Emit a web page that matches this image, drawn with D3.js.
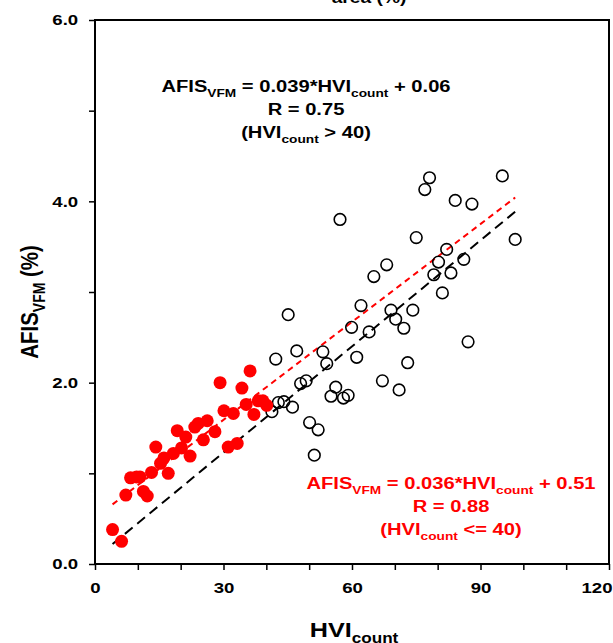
<!DOCTYPE html>
<html>
<head>
<meta charset="utf-8">
<script src="https://cdn.jsdelivr.net/npm/d3@7"></script>
<style>
  body { margin: 0; background: #fff; }
  svg { display: block; font-family: "Liberation Sans", Arial, sans-serif; font-weight: bold; }
</style>
</head>
<body>
<svg id="chart" width="613" height="643"></svg>
<script>
'use strict'

// HVI <= 40 (red, filled)
const lowHvi = [4.1, 6.2, 7.2, 8.3, 9.7, 10.5, 11.3, 12.2, 13.2, 14.2, 15.3, 16.1, 17.1, 18.3, 19.2, 20.2, 21.2, 22.2, 23.3, 24.1, 25.3, 26.2, 28.0, 29.2, 30.1, 31.1, 32.3, 33.2, 34.3, 35.3, 36.2, 37.1, 38.1, 39.2, 40.1]
const lowAfis = [0.38, 0.25, 0.76, 0.95, 0.96, 0.96, 0.80, 0.75, 1.01, 1.29, 1.11, 1.17, 1.00, 1.22, 1.47, 1.28, 1.40, 1.19, 1.51, 1.55, 1.37, 1.58, 1.46, 2.00, 1.69, 1.29, 1.66, 1.33, 1.94, 1.76, 2.13, 1.65, 1.80, 1.80, 1.75]

// HVI > 40 (open circles)
const highHvi = [41.3, 42.8, 44.1, 46.1, 42.2, 45.1, 47.1, 48.0, 49.3, 50.1, 52.1, 51.2, 53.2, 54.1, 55.1, 56.2, 58.0, 59.1, 57.2, 59.9, 61.1, 62.1, 64.0, 65.1, 67.1, 68.1, 69.1, 70.2, 71.0, 72.1, 73.0, 74.2, 75.0, 77.0, 78.1, 79.1, 80.2, 81.1, 82.1, 83.1, 84.1, 86.1, 87.1, 88.0, 95.1, 98.1]
const highAfis = [1.68, 1.78, 1.79, 1.73, 2.26, 2.75, 2.35, 1.99, 2.02, 1.56, 1.48, 1.20, 2.34, 2.21, 1.85, 1.95, 1.83, 1.86, 3.80, 2.61, 2.28, 2.85, 2.56, 3.17, 2.02, 3.30, 2.80, 2.70, 1.92, 2.60, 2.22, 2.80, 3.60, 4.13, 4.26, 3.19, 3.33, 2.99, 3.47, 3.21, 4.01, 3.36, 2.45, 3.97, 4.28, 3.58]

// fitted lines: [slope, intercept, xFrom, xTo]
const fitHigh = [0.039, 0.06, 4.1, 98.1]
const fitLow = [0.036, 0.51, 4.1, 98.1]

const xTicks = [0, 10, 20, 30, 40, 50, 60, 70, 80, 90, 100, 110, 120]
const xLabels = [0, 30, 60, 90, 120]
const yTicks = [0, 1, 2, 3, 4, 5, 6]
const yLabels = [0, 2, 4, 6]

const svg = d3.select('#chart')
const padL = 95, padR = 609, padT = 20, padB = 564
const stretch = 1.2   // text in the original is a bit wide

const x = d3.scaleLinear().domain([0, 120]).range([padL, padR])
const y = d3.scaleLinear().domain([0, 6]).range([padB, padT])

function styleAxis(g){
	g.select('.domain').remove()
	g.selectAll('line').attr('stroke', '#000').attr('stroke-width', 1.5)
	g.selectAll('text')
		.attr('font-size', 15.5)
		.attr('font-weight', 'bold')
		.attr('fill', '#000')
		.attr('font-family', '"Liberation Sans", Arial, sans-serif')
		.attr('transform', 'scale(' + stretch + ',1)')
}

// axes
let xAxis = d3.axisBottom(x)
	.tickValues(xTicks)
	.tickSize(6)
	.tickSizeOuter(0)
	.tickPadding(12)
	.tickFormat(function(d){ return xLabels.indexOf(d) >= 0 ? d : '' })
svg.append('g')
	.attr('transform', 'translate(0,' + padB + ')')
	.call(xAxis)
	.call(styleAxis)
	.call(function(g){
		// last label sits flush with the right edge
		g.selectAll('.tick').filter(function(d){ return d == 120 })
			.select('text').attr('text-anchor', 'end').attr('x', 2.5)
	})

let yAxis = d3.axisLeft(y)
	.tickValues(yTicks)
	.tickSize(6)
	.tickSizeOuter(0)
	.tickPadding(8)
	.tickFormat(function(d){ return yLabels.indexOf(d) >= 0 ? d3.format('.1f')(d) : '' })
svg.append('g')
	.attr('transform', 'translate(' + padL + ',0)')
	.call(yAxis)
	.call(styleAxis)

// frame
svg.append('rect')
	.attr('x', x(0)).attr('y', y(6))
	.attr('width', x(120) - x(0)).attr('height', y(0) - y(6))
	.attr('fill', 'none').attr('stroke', '#000').attr('stroke-width', 2)

// fit lines
function fitLine(f, color, dash){
	let pts = [f[2], f[3]].map(function(v){ return [v, f[0] * v + f[1]] })
	svg.append('path')
		.datum(pts)
		.attr('d', d3.line().x(function(d){ return x(d[0]) }).y(function(d){ return y(d[1]) }))
		.attr('fill', 'none')
		.attr('stroke', color)
		.attr('stroke-width', 2)
		.attr('stroke-dasharray', dash)
}
fitLine(fitHigh, '#000', '10,6')
fitLine(fitLow, '#ff0000', '6,4.5')

// points
svg.append('g').selectAll('circle')
	.data(highHvi.map(function(v, i){ return [v, highAfis[i]] }))
	.join('circle')
	.attr('cx', function(d){ return x(d[0]) })
	.attr('cy', function(d){ return y(d[1]) })
	.attr('r', 5.8)
	.attr('fill', 'none')
	.attr('stroke', '#000')
	.attr('stroke-width', 1.6)

svg.append('g').selectAll('circle')
	.data(lowHvi.map(function(v, i){ return [v, lowAfis[i]] }))
	.join('circle')
	.attr('cx', function(d){ return x(d[0]) })
	.attr('cy', function(d){ return y(d[1]) })
	.attr('r', 6.5)
	.attr('fill', '#ff0000')

// rich text with subscripts
function richText(parts, px, py, size, color, rotate){
	let tf = 'translate(' + px + ',' + py + ') scale(' + stretch + ',1)'
	if (rotate) tf += ' rotate(-90)'
	let t = svg.append('g').attr('transform', tf)
		.append('text')
		.attr('text-anchor', 'middle')
		.attr('font-size', size)
		.attr('font-weight', 'bold')
		.attr('fill', color)
	let shift = 0
	parts.forEach(function(p){
		let s = t.append('tspan').text(p[0])
		let want = p[1] ? size * 0.3 : 0
		if (want != shift) s.attr('dy', want - shift)
		shift = want
		if (p[1]) s.attr('font-size', size * 0.68)
	})
	return t
}

// annotations
richText([['AFIS'], ['VFM', 1], [' = 0.039*HVI'], ['count', 1], [' + 0.06']], 306, 92, 16.8, '#000')
richText([['R = 0.75']], 306, 115, 16.8, '#000')
richText([['(HVI'], ['count', 1], [' > 40)']], 306, 138, 16.8, '#000')

richText([['AFIS'], ['VFM', 1], [' = 0.036*HVI'], ['count', 1], [' + 0.51']], 451, 489, 16.8, '#ff0000')
richText([['R = 0.88']], 451, 512, 16.8, '#ff0000')
richText([['(HVI'], ['count', 1], [' <= 40)']], 451, 535, 16.8, '#ff0000')

// axis titles
richText([['HVI'], ['count', 1]], 354, 637, 21, '#000')
richText([['AFIS'], ['VFM', 1], [' (%)']], 38, 302, 20.5, '#000', true)

// title (cut off at the top)
svg.append('g').attr('transform', 'translate(369,3) scale(' + stretch + ',1)')
	.append('text')
	.attr('text-anchor', 'middle')
	.attr('font-size', 16)
	.attr('font-weight', 'bold')
	.text('area (%)')
</script>
</body>
</html>
